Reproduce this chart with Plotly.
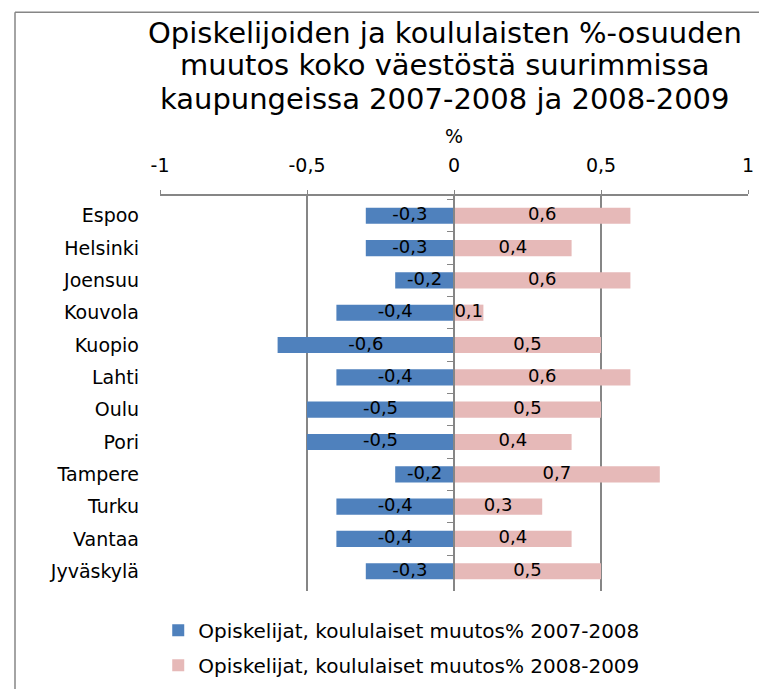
import plotly.graph_objects as go

cities = ["Espoo", "Helsinki", "Joensuu", "Kouvola", "Kuopio", "Lahti",
          "Oulu", "Pori", "Tampere", "Turku", "Vantaa", "Jyväskylä"]
change_2007_2008 = [-0.3, -0.3, -0.2, -0.4, -0.6, -0.4, -0.5, -0.5, -0.2, -0.4, -0.4, -0.3]
change_2008_2009 = [0.6, 0.4, 0.6, 0.1, 0.5, 0.6, 0.5, 0.4, 0.7, 0.3, 0.4, 0.5]
series_names = ["Opiskelijat, koululaiset muutos% 2007-2008",
                "Opiskelijat, koululaiset muutos% 2008-2009"]
x_ticks = [-1, -0.5, 0, 0.5, 1]
x_tick_labels = ["-1", "-0,5", "0", "0,5", "1"]
title_lines = ["Opiskelijoiden ja koululaisten %-osuuden",
               "muutos koko väestöstä suurimmissa",
               "kaupungeissa 2007-2008 ja 2008-2009"]

FONT = "DejaVu Sans"
GRID = "#868686"

fig = go.Figure()
for i, (values, color) in enumerate([(change_2007_2008, "#4f81bd"),
                                     (change_2008_2009, "#e6b9b8")]):
    fig.add_trace(go.Bar(
        y=cities, x=values, orientation="h", name=series_names[i],
        legendgroup=f"g{i}",
        marker=dict(color=color, line=dict(width=0)),
        width=0.5, textposition="none",
    ))
    # value labels centred on each bar
    fig.add_trace(go.Scatter(
        y=cities, x=[v / 2 for v in values], mode="text",
        text=values, texttemplate="%{text:.1f}", textposition="middle center",
        textfont=dict(color="black", size=18, family=FONT),
        showlegend=False, hoverinfo="skip", cliponaxis=False,
    ))

# hidden trace so the centre axis carrying the category ticks is drawn
fig.add_trace(go.Bar(y=cities, x=[0] * len(cities), orientation="h", yaxis="y2",
                     showlegend=False, hoverinfo="skip", marker=dict(opacity=0)))

# title lines placed one by one (paper coords relative to the plot area)
title_y = [1.4135, 1.3312, 1.2463]
annotations = [
    dict(text=line, xref="paper", yref="paper", x=0.485, y=yy,
         xanchor="center", yanchor="middle", showarrow=False,
         font=dict(size=29, family=FONT, color="black"))
    for line, yy in zip(title_lines, title_y)
]

# the page body adds an 8px offset, so the figure is 8px smaller
fig.update_layout(
    width=759, height=681,
    margin=dict(l=152, r=19, t=188, b=98, autoexpand=False),
    paper_bgcolor="white", plot_bgcolor="white",
    barmode="relative",
    separators=", ",
    font=dict(family=FONT, color="black", size=19),
    annotations=annotations,
    xaxis=dict(
        side="top", range=[-1, 1], tickvals=x_ticks, ticktext=x_tick_labels,
        showgrid=True, gridcolor=GRID, gridwidth=2,
        zeroline=False, showline=True, linecolor=GRID, linewidth=2,
        ticks="outside", ticklen=4, tickcolor=GRID, ticklabelstandoff=10,
        title=dict(text="%", standoff=6, font=dict(size=19)),
        tickfont=dict(size=19), automargin=False,
    ),
    yaxis=dict(
        autorange="reversed", showgrid=False, zeroline=False,
        showline=False, ticks="", ticklabelstandoff=20,
        tickfont=dict(size=19), automargin=False,
    ),
    yaxis2=dict(
        overlaying="y", anchor="free", position=0.5, matches="y",
        showticklabels=False, showgrid=False, zeroline=False,
        showline=True, linecolor=GRID, linewidth=2,
        ticks="outside", ticklen=6, tickcolor=GRID, tickson="boundaries",
    ),
    legend=dict(
        orientation="v", x=-0.003, xanchor="left", y=-0.05, yanchor="top",
        font=dict(size=20), traceorder="grouped", tracegroupgap=6,
    ),
    shapes=[
        dict(type="line", xref="paper", yref="paper", x0=-0.2466, x1=-0.2466,
             y0=-0.3, y1=1.4649, line=dict(color=GRID, width=1.5)),
        dict(type="line", xref="paper", yref="paper", x0=-0.2466, x1=1.1,
             y0=1.4649, y1=1.4649, line=dict(color=GRID, width=1.5)),
    ],
)

fig.write_html("out.html")
